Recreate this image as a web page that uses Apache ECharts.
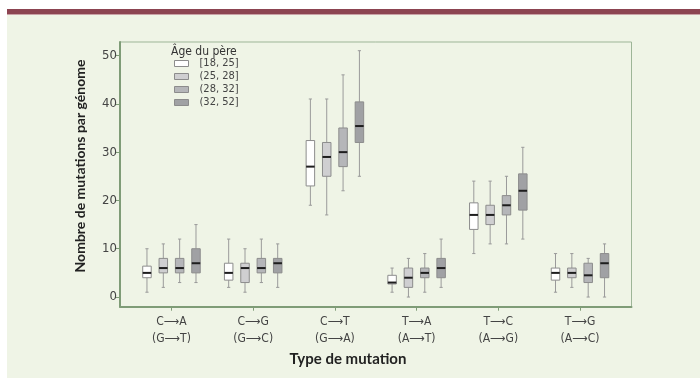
<!DOCTYPE html>
<html>
<head>
<meta charset="utf-8">
<script src="https://cdn.jsdelivr.net/npm/echarts@6/dist/echarts.min.js"></script>
<style>
  html, body { margin: 0; padding: 0; background: #fff; }
  #chart { width: 700px; height: 379px; }
</style>
</head>
<body>
<div id="chart"></div>
<script>
// catégories de mutation (axe x)
const categories = ['C⟶A\n(G⟶T)', 'C⟶G\n(G⟶C)', 'C⟶T\n(G⟶A)', 'T⟶A\n(A⟶T)', 'T⟶C\n(A⟶G)', 'T⟶G\n(A⟶C)'];
const ageGroups = ['[18, 25]', '(25, 28]', '(28, 32]', '(32, 52]'];
const yTicks = [0, 10, 20, 30, 40, 50];

// [min, q1, médiane, q3, max] par catégorie
const age18_25 = [[1, 4, 5, 6.4, 10], [2, 3.5, 5, 7, 12], [19, 23, 27, 32.4, 41], [1, 2.7, 3, 4.5, 6], [9, 14, 17, 19.5, 24], [1, 3.5, 5, 6, 9]];
const age25_28 = [[2, 5, 6, 8, 11], [1, 3, 6, 7, 10], [17, 25, 29, 32, 41], [0, 2, 4, 6, 8], [11, 15, 17, 19, 24], [2, 4, 5, 6, 9]];
const age28_32 = [[3, 5, 6, 8, 12], [3, 5, 6, 8, 12], [22, 27, 30, 35, 46], [1, 4, 5, 6, 9], [11, 17, 19, 21, 25], [0, 3, 4.5, 7, 8]];
const age32_52 = [[3, 5, 7, 10, 15], [2, 5, 7, 8, 11], [25, 32, 35.4, 40.4, 51], [2, 4, 6, 8, 12], [12, 18, 22, 25.5, 31], [0, 4, 7, 9, 11]];

const groupData = [age18_25, age25_28, age28_32, age32_52];
const fills = ['#ffffff', '#cfcfd1', '#b5b6b9', '#a0a1a4'];
const offsets = [-0.3, -0.1, 0.1, 0.3];

const narrow = '"Liberation Sans Narrow", "DejaVu Sans Condensed", "Roboto Condensed", "Liberation Sans", sans-serif';
const boldFont = 'Lato, "Open Sans", sans-serif';

const chart = echarts.init(document.getElementById('chart'));

// dessin d'une boîte à moustaches
const renderBox = (params, api) => {
  const x = api.value(0) + offsets[params.seriesIndex];
  const pMin = api.coord([x, api.value(1)]);
  const pQ1 = api.coord([x, api.value(2)]);
  const pMed = api.coord([x, api.value(3)]);
  const pQ3 = api.coord([x, api.value(4)]);
  const pMax = api.coord([x, api.value(5)]);
  const half = api.size([0.052, 0])[0];
  const cap = 1.6;
  const cx = pMin[0];
  const whisker = { stroke: '#9a9a9a', lineWidth: 1 };
  return {
    type: 'group',
    children: [
      { type: 'line', shape: { x1: cx, y1: pMax[1], x2: cx, y2: pQ3[1] }, style: whisker },
      { type: 'line', shape: { x1: cx, y1: pQ1[1], x2: cx, y2: pMin[1] }, style: whisker },
      { type: 'line', shape: { x1: cx - cap, y1: pMax[1], x2: cx + cap, y2: pMax[1] }, style: whisker },
      { type: 'line', shape: { x1: cx - cap, y1: pMin[1], x2: cx + cap, y2: pMin[1] }, style: whisker },
      {
        type: 'rect',
        shape: { x: cx - half, y: pQ3[1], width: half * 2, height: pQ1[1] - pQ3[1] },
        style: { fill: fills[params.seriesIndex], stroke: '#8c8c8c', lineWidth: 1 }
      },
      { type: 'line', shape: { x1: cx - half, y1: pMed[1], x2: cx + half, y2: pMed[1] }, style: { stroke: '#1e1e1e', lineWidth: 2 } }
    ]
  };
};

const series = ageGroups.map((name, g) => ({
  name,
  type: 'custom',
  renderItem: renderBox,
  itemStyle: { color: fills[g], borderColor: '#8c8c8c' },
  encode: { x: 0, y: [1, 2, 3, 4, 5] },
  data: groupData[g].map((s, i) => [i + 1, ...s])
}));

const option = {
  backgroundColor: '#ffffff',
  animation: false,
  graphic: [
    { type: 'rect', z: -10, silent: true, shape: { x: 7, y: 15, width: 693, height: 363 }, style: { fill: '#eff4e6' } },
    { type: 'rect', z: -10, silent: true, shape: { x: 7, y: 9, width: 693, height: 5 }, style: { fill: '#8c4451' } },
    { type: 'rect', z: -10, silent: true, shape: { x: 7, y: 14, width: 693, height: 1 }, style: { fill: '#c9a2a6' } },
    {
      type: 'text', left: 171, top: 46,
      style: { text: 'Âge du père', font: '12px ' + narrow, fill: '#333' }
    },
    {
      type: 'text', x: 80, y: 166, rotation: Math.PI / 2,
      style: { text: 'Nombre de mutations par génome', font: 'bold 14px ' + boldFont, fill: '#222', align: 'center', verticalAlign: 'middle' }
    },
    {
      type: 'text', x: 348, y: 359,
      style: { text: 'Type de mutation', font: 'bold 15px ' + boldFont, fill: '#222', align: 'center', verticalAlign: 'middle' }
    }
  ],
  legend: {
    orient: 'vertical',
    left: 169,
    top: 53,
    itemWidth: 14,
    itemHeight: 6,
    itemGap: 2,
    icon: 'rect',
    textStyle: { fontFamily: narrow, fontSize: 11, color: '#444', lineHeight: 10.2, padding: [0, 0, 0, 6] },
    data: ageGroups.map((name, g) => ({ name, itemStyle: { color: fills[g], borderColor: '#8c8c8c', borderWidth: 1 } }))
  },
  grid: {
    left: 120, right: 68.5, top: 42, bottom: 72.3,
    show: true, borderColor: '#9db597', borderWidth: 1, backgroundColor: 'transparent'
  },
  xAxis: {
    type: 'value',
    min: 0.37,
    max: 6.63,
    axisLine: { show: true, onZero: false, lineStyle: { color: '#7f9c77', width: 2 } },
    axisTick: { show: true, length: 4, customValues: [1, 2, 3, 4, 5, 6], lineStyle: { color: '#7f9c77' } },
    axisLabel: {
      customValues: [1, 2, 3, 4, 5, 6],
      formatter: (v) => categories[Math.round(v) - 1] || '',
      fontFamily: narrow, fontSize: 12, color: '#444', lineHeight: 17, margin: 7
    },
    splitLine: { show: false }
  },
  yAxis: {
    type: 'value',
    min: -2,
    max: 52.8,
    axisLine: { show: true, onZero: false, lineStyle: { color: '#7f9c77', width: 2 } },
    axisTick: { show: true, length: 5, customValues: yTicks, lineStyle: { color: '#7f9c77' } },
    axisLabel: {
      customValues: yTicks,
      fontFamily: narrow, fontSize: 13, color: '#444', margin: 3
    },
    splitLine: { show: false }
  },
  series
};

chart.setOption(option);
window.addEventListener('resize', () => chart.resize());
</script>
</body>
</html>
